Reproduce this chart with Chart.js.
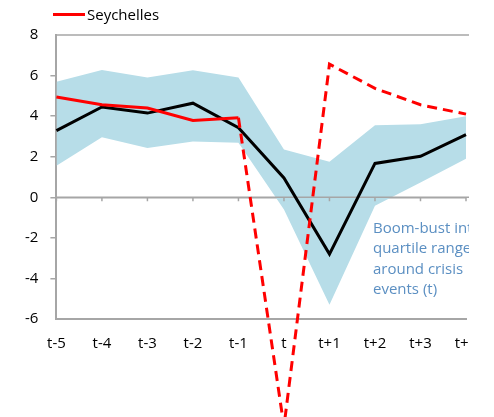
<!DOCTYPE html>
<html>
<head>
<meta charset="utf-8">
<script src="https://cdn.jsdelivr.net/npm/chart.js@4"></script>
<style>
  body { margin: 0; background: #fff; }
  #wrap { position: relative; width: 469px; height: 417px; overflow: hidden; }
  #legend { position: absolute; left: 53px; top: 4px; font: 15px "Open Sans", sans-serif; line-height: 20px; color: #000; display: flex; align-items: center; }
  #legend span { display: inline-block; width: 32px; height: 3px; background: #ff0000; margin-right: 2px; }
</style>
</head>
<body>
<div id="wrap">
  <canvas id="myChart" width="494" height="417"></canvas>
  <div id="legend"><span></span>Seychelles</div>
</div>
<script>
//datos
const etiquetas = ['t-5', 't-4', 't-3', 't-2', 't-1', 't', 't+1', 't+2', 't+3', 't+4'];
const mediana = [3.29, 4.45, 4.15, 4.64, 3.43, 0.95, -2.8, 1.67, 2.02, 3.09];
const bandaSup = [5.7, 6.28, 5.9, 6.26, 5.9, 2.35, 1.75, 3.55, 3.6, 4.0];
const bandaInf = [1.55, 2.96, 2.43, 2.75, 2.69, -0.6, -5.3, -0.42, 0.73, 1.9];
const seychelles = [4.94, 4.56, 4.4, 3.79, 3.92, null, null, null, null, null];
const seychellesProy = [null, null, null, null, 3.92, -11.3, 6.56, 5.37, 4.56, 4.1];
const yTicks = [-6, -4, -2, 0, 2, 4, 6, 8];
const nota = ['Boom-bust inter-', 'quartile range', 'around crisis', 'events (t)'];

const gris = '#a6a6a6';
const fuente = '"Open Sans", sans-serif';

//linea cero, linea superior y marcas, mas el texto de la banda
const extras = {
    id: 'extras',
    beforeDatasetsDraw(chart) {
        const { ctx, scales: { x, y }, chartArea } = chart;
        const y0 = y.getPixelForValue(0);
        const yTop = y.getPixelForValue(8);
        ctx.save();
        ctx.strokeStyle = gris;
        ctx.lineWidth = 1.5;
        ctx.beginPath();
        ctx.moveTo(chartArea.left, y0);
        ctx.lineTo(chartArea.right + 30, y0);
        ctx.moveTo(chartArea.left, yTop);
        ctx.lineTo(chartArea.right + 30, yTop);
        etiquetas.forEach((e, i) => {
            const px = x.getPixelForValue(i);
            ctx.moveTo(px, y0);
            ctx.lineTo(px, y0 + 4);
        });
        ctx.stroke();

        ctx.fillStyle = '#5b8fc2';
        ctx.font = '15px ' + fuente;
        ctx.textBaseline = 'middle';
        const tx = x.getPixelForValue(7) - 2;
        const ty = y.getPixelForValue(-1.55);
        nota.forEach((l, i) => ctx.fillText(l, tx, ty + i * 20.4));
        ctx.restore();
    }
};

new Chart(document.getElementById('myChart'), {
    type: 'line',
    data: {
        labels: etiquetas,
        datasets: [{
            label: 'Seychelles',
            data: seychelles,
            borderColor: '#ff0000',
            borderWidth: 3,
            pointRadius: 0,
            tension: 0
        },
        {
            label: 'Seychelles proy',
            data: seychellesProy,
            borderColor: '#ff0000',
            borderWidth: 3,
            borderDash: [10, 6],
            pointRadius: 0,
            tension: 0,
            clip: false
        },
        {
            label: 'Mediana',
            data: mediana,
            borderColor: '#000000',
            borderWidth: 3,
            pointRadius: 0,
            tension: 0
        },
        {
            label: 'Superior',
            data: bandaSup,
            borderWidth: 0,
            borderColor: 'rgba(0,0,0,0)',
            backgroundColor: '#b7dde8',
            pointRadius: 0,
            tension: 0,
            fill: '+1'
        },
        {
            label: 'Inferior',
            data: bandaInf,
            borderWidth: 0,
            borderColor: 'rgba(0,0,0,0)',
            pointRadius: 0,
            tension: 0,
            fill: false
        }]
    },
    options: {
        responsive: false,
        animation: false,
        layout: {
            padding: { left: 13, top: 35, right: 28, bottom: 48 }
        },
        plugins: {
            legend: { display: false },
            tooltip: { enabled: false },
            filler: { drawTime: 'beforeDatasetsDraw' }
        },
        scales: {
            x: {
                offset: false,
                grid: { display: false, drawTicks: false },
                border: { display: true, color: gris, width: 2 },
                ticks: {
                    padding: 16,
                    color: '#000',
                    font: { family: fuente, size: 15 },
                    maxRotation: 0,
                    autoSkip: false
                }
            },
            y: {
                min: -6,
                max: 8,
                afterBuildTicks: axis => { axis.ticks = yTicks.map(v => ({ value: v })); },
                grid: {
                    color: c => (c.tick && c.tick.value === 0) ? gris : 'rgba(0,0,0,0)',
                    tickColor: c => (c.tick && (c.tick.value === 8 || c.tick.value === -6)) ? 'rgba(0,0,0,0)' : gris,
                    lineWidth: 1.5,
                    tickLength: 6
                },
                border: { display: true, color: gris, width: 2 },
                ticks: {
                    padding: 12,
                    color: '#000',
                    font: { family: fuente, size: 15 }
                }
            }
        }
    },
    plugins: [extras]
});
</script>
</body>
</html>
